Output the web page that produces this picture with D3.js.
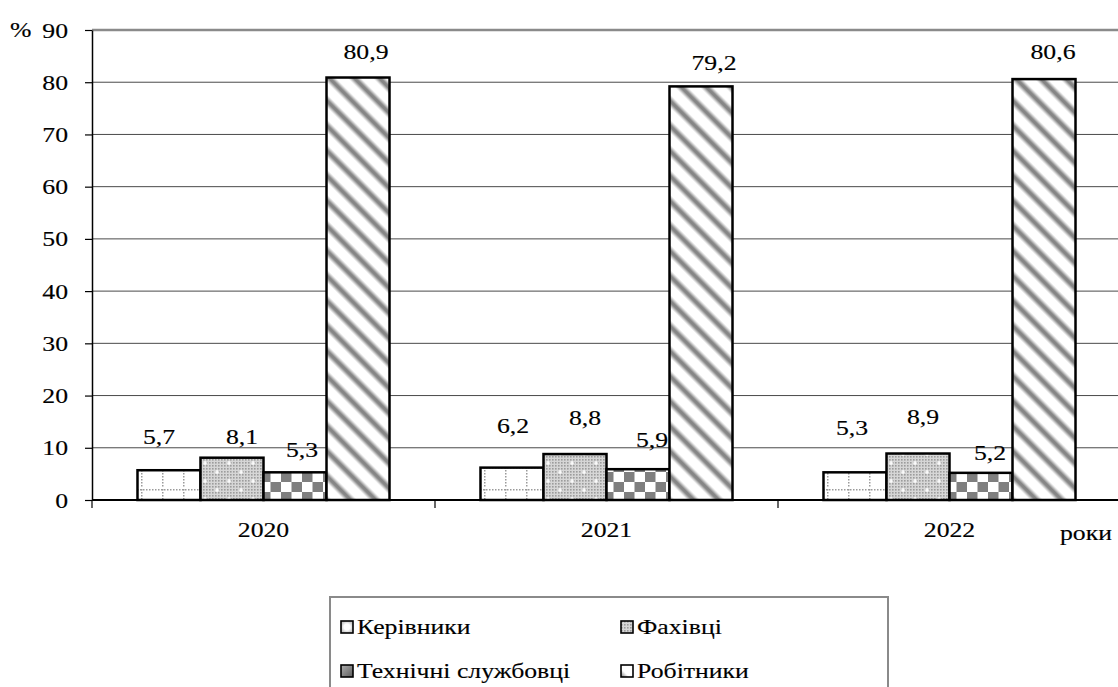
<!DOCTYPE html>
<html>
<head>
<meta charset="utf-8">
<script src="https://cdn.jsdelivr.net/npm/d3@7"></script>
<style>
  html, body { margin: 0; padding: 0; background: #fff; }
</style>
</head>
<body>
<script>
// Staff structure by category, % of total
const years = ["2020", "2021", "2022"];
const series = ["Керівники", "Фахівці", "Технічні службовці", "Робітники"];
const kerivnyky = [5.7, 6.2, 5.3];
const fakhivtsi = [8.1, 8.8, 8.9];
const tekhnichni = [5.3, 5.9, 5.2];
const robitnyky = [80.9, 79.2, 80.6];
const yTicks = [0, 10, 20, 30, 40, 50, 60, 70, 80, 90];
const yUnit = "%";
const xUnit = "роки";

// hand-placed offsets of the value labels [dx, dy] per year, per series
const labelShift = [
  [[-10, -26], [10, -14], [7, -15], [8, -19]],
  [[1, -35], [10, -29], [14, -22], [13, -16]],
  [[-3, -37], [5, -30], [9, -13], [9, -20]]
];

const seriesValues = [kerivnyky, fakhivtsi, tekhnichni, robitnyky];

const W = 1118, H = 687;
const FONT = "Liberation Serif";
const FS = 22, SX = 1.17;          // font size and horizontal stretch of the text
const plot = { left: 92, right: 1121, top: 30, bottom: 500 };

const svg = d3.select("body").append("svg").attr("width", W).attr("height", H)
  .style("display", "block");
const defs = svg.append("defs");

// ---- fill patterns ----
// Керівники: white with dotted grey grid
const pK = defs.append("pattern").attr("id", "pK").attr("patternUnits", "userSpaceOnUse")
  .attr("width", 21).attr("height", 22).attr("x", 138).attr("y", 3);
pK.append("rect").attr("width", 21).attr("height", 22).attr("fill", "#fff");
for (let i = 0; i < 7; i++) pK.append("rect").attr("x", i * 3).attr("y", 2).attr("width", 1.5).attr("height", 1.5).attr("fill", "#9a9a9a");
for (let j = 0; j < 7; j++) pK.append("rect").attr("x", 16).attr("y", 2 + j * 3).attr("width", 1.5).attr("height", 1.5).attr("fill", "#9a9a9a");

// Фахівці: fine grey dots with white sparkles
const pFine = defs.append("pattern").attr("id", "pFine").attr("patternUnits", "userSpaceOnUse")
  .attr("width", 3).attr("height", 3);
pFine.append("rect").attr("width", 3).attr("height", 3).attr("fill", "#d6d6d6");
pFine.append("rect").attr("width", 1.6).attr("height", 1.6).attr("fill", "#9c9c9c");
const pF = defs.append("pattern").attr("id", "pF").attr("patternUnits", "userSpaceOnUse")
  .attr("width", 24).attr("height", 18);
pF.append("rect").attr("width", 24).attr("height", 18).attr("fill", "url(#pFine)");
[[5, 4], [17, 13]].forEach(([cx, cy]) => {
  pF.append("rect").attr("x", cx - 2).attr("y", cy - 0.6).attr("width", 4).attr("height", 1.3).attr("fill", "#fff");
  pF.append("rect").attr("x", cx - 0.6).attr("y", cy - 2).attr("width", 1.3).attr("height", 4).attr("fill", "#fff");
});

// Технічні службовці: grey/white checkerboard
const pT = defs.append("pattern").attr("id", "pT").attr("patternUnits", "userSpaceOnUse")
  .attr("width", 21).attr("height", 20).attr("y", 2);
pT.append("rect").attr("width", 21).attr("height", 20).attr("fill", "#fff");
pT.append("rect").attr("x", 10.5).attr("y", 0).attr("width", 10.5).attr("height", 10).attr("fill", "#7f7f7f");
pT.append("rect").attr("x", 0).attr("y", 10).attr("width", 10.5).attr("height", 10).attr("fill", "#7f7f7f");

// Робітники: soft grey diagonal stripes
const gS = defs.append("linearGradient").attr("id", "gS").attr("x1", 0).attr("x2", 1).attr("y1", 0).attr("y2", 0);
[[0, "#fff"], [0.1, "#fff"], [0.3, "#868686"], [0.42, "#868686"], [0.62, "#fff"], [1, "#fff"]]
  .forEach(([o, c]) => gS.append("stop").attr("offset", o).attr("stop-color", c));
const pR = defs.append("pattern").attr("id", "pR").attr("patternUnits", "userSpaceOnUse")
  .attr("width", 17.7).attr("height", 40).attr("patternTransform", "rotate(-45)");
pR.append("rect").attr("width", 17.7).attr("height", 40).attr("fill", "url(#gS)");

// legend key fills
const gTech = defs.append("linearGradient").attr("id", "gTech").attr("x1", 0).attr("x2", 1).attr("y1", 0).attr("y2", 1);
gTech.append("stop").attr("offset", 0).attr("stop-color", "#b0b0b0");
gTech.append("stop").attr("offset", 1).attr("stop-color", "#5c5c5c");
const gRob = defs.append("linearGradient").attr("id", "gRob").attr("x1", 0).attr("x2", 1).attr("y1", 1).attr("y2", 0);
gRob.append("stop").attr("offset", 0).attr("stop-color", "#777");
gRob.append("stop").attr("offset", 0.35).attr("stop-color", "#fff");
gRob.append("stop").attr("offset", 1).attr("stop-color", "#fff");
const gKer = defs.append("radialGradient").attr("id", "gKer");
gKer.append("stop").attr("offset", 0.5).attr("stop-color", "#fff");
gKer.append("stop").attr("offset", 1).attr("stop-color", "#c8c8c8");

const barFills = ["url(#pK)", "url(#pF)", "url(#pT)", "url(#pR)"];
const keyFills = ["url(#gKer)", "url(#pFine)", "url(#gTech)", "url(#gRob)"];

// ---- scales ----
const y = d3.scaleLinear().domain([0, 90]).range([plot.bottom, plot.top]);
const x0 = d3.scaleBand().domain(years).range([plot.left, plot.right]).paddingInner(0).paddingOuter(0);
const x1 = d3.scaleBand().domain(series).range([0, x0.bandwidth()]).paddingInner(0).paddingOuter(0.722);

function styleText(sel) {
  return sel.attr("font-family", FONT)
    .attr("font-size", FS)
    .attr("fill", "#000")
    .attr("stroke", "#000")
    .attr("stroke-width", 0.15);
}

function sText(g, x, yy, str, anchor) {
  return styleText(g.append("text")
    .attr("transform", `translate(${x},${yy}) scale(${SX},1)`)
    .attr("text-anchor", anchor || "middle")
    .text(str));
}

// ---- gridlines ----
svg.append("g").selectAll("line").data(yTicks.filter(t => t > 0)).join("line")
  .attr("x1", plot.left).attr("x2", W)
  .attr("y1", d => y(d)).attr("y2", d => y(d))
  .attr("stroke", d => d === 90 ? "#8a8a8a" : "#4a4a4a")
  .attr("stroke-width", d => d === 90 ? 2.5 : 1);

// ---- y axis ----
const yAxis = svg.append("g").attr("transform", `translate(${plot.left},0)`)
  .call(d3.axisLeft(y).tickValues(yTicks).tickSize(7).tickSizeOuter(0))
  .attr("font-family", FONT);
yAxis.select(".domain").attr("stroke", "#000").attr("stroke-width", 1.5);
yAxis.selectAll(".tick line").attr("stroke", "#000").attr("stroke-width", 1.2);
styleText(yAxis.selectAll(".tick text")
  .attr("x", null).attr("dy", null)
  .attr("transform", `translate(-24,7) scale(${SX},1)`)
  .attr("text-anchor", "end"));
sText(svg, 10, y(90) + 7, yUnit, "start");

// ---- bars ----
const groups = svg.append("g").selectAll("g").data(years).join("g")
  .attr("transform", d => `translate(${x0(d)},0)`);

groups.each(function (yr, yi) {
  const g = d3.select(this);
  const rows = series.map((s, si) => ({ s, si, v: seriesValues[si][yi] }));
  g.selectAll("rect").data(rows).join("rect")
    .attr("x", d => x1(d.s))
    .attr("y", d => y(d.v))
    .attr("width", x1.bandwidth())
    .attr("height", d => y(0) - y(d.v))
    .attr("fill", d => barFills[d.si])
    .attr("stroke", "#000")
    .attr("stroke-width", 2.5);
  rows.forEach(d => {
    const [dx, dy] = labelShift[yi][d.si];
    sText(g, x1(d.s) + x1.bandwidth() / 2 + dx, y(d.v) + dy, d3.format(".1f")(d.v).replace(".", ","));
  });
});

// ---- x axis ----
const xAxis = svg.append("g").attr("transform", `translate(0,${plot.bottom})`)
  .call(d3.axisBottom(x0).tickSize(0).tickSizeOuter(0))
  .attr("font-family", FONT);
xAxis.select(".domain").remove();
styleText(xAxis.selectAll(".tick text")
  .attr("y", null).attr("dy", null)
  .attr("transform", `translate(0,37) scale(${SX},1)`));
svg.append("line").attr("x1", plot.left).attr("x2", W)
  .attr("y1", y(0)).attr("y2", y(0)).attr("stroke", "#000").attr("stroke-width", 2);
svg.append("g").selectAll("line").data(years).join("line")
  .attr("x1", d => x0(d)).attr("x2", d => x0(d))
  .attr("y1", y(0)).attr("y2", y(0) + 8)
  .attr("stroke", "#000").attr("stroke-width", 1.2);
sText(svg, 1060, 540, xUnit, "start");

// ---- legend ----
const lg = svg.append("g");
lg.append("rect").attr("x", 330).attr("y", 597).attr("width", 558).attr("height", 140)
  .attr("fill", "#fff").attr("stroke", "#8a8a8a").attr("stroke-width", 2);
const legendCols = [341, 621], legendRows = [634, 678];
series.forEach((s, i) => {
  const lx = legendCols[i % 2], ly = legendRows[Math.floor(i / 2)];
  lg.append("rect").attr("x", lx).attr("y", ly - 13).attr("width", 12).attr("height", 12)
    .attr("fill", keyFills[i]).attr("stroke", "#000").attr("stroke-width", 1.6);
  sText(lg, lx + 16, ly, s, "start");
});
</script>
</body>
</html>
